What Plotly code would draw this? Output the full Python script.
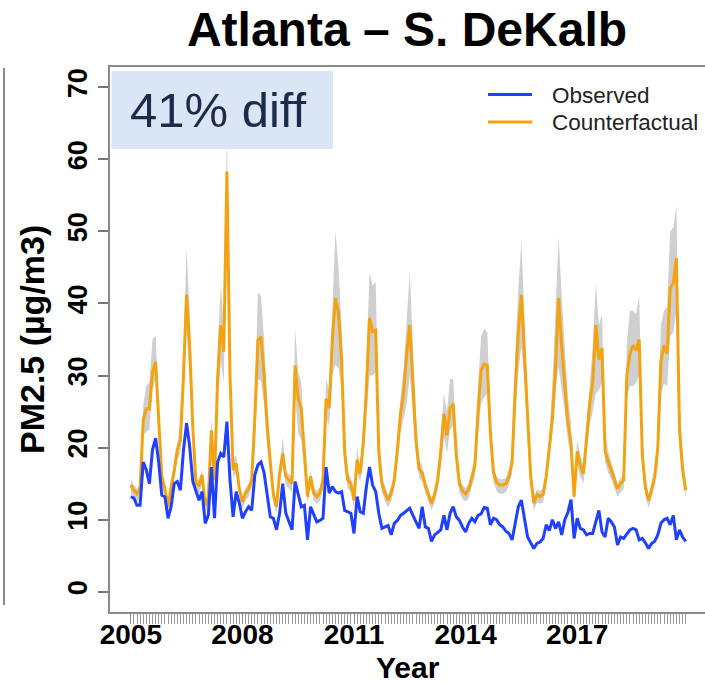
import plotly.graph_objects as go

# Monthly PM2.5 at the South DeKalb site, Jan 2005 - Dec 2019 (one row per year)
start_year = 2005
n_months = 180
month_pos = [start_year + k / 12 for k in range(n_months)]

observed = [
    13.2, 13.0, 12.0, 12.0, 18.0, 16.9, 15.0, 19.7, 21.3, 18.0, 13.4, 13.2,  # 2005
    10.2, 11.8, 15.0, 15.3, 14.1, 19.7, 23.4, 20.1, 15.3, 14.1, 12.7, 13.9,  # 2006
    9.5, 10.6, 17.3, 10.2, 18.0, 19.2, 18.7, 23.6, 15.5, 10.4, 13.9, 12.3,   # 2007
    10.2, 11.1, 11.8, 11.3, 16.2, 17.6, 18.0, 16.5, 13.5, 10.4, 10.2, 8.6,   # 2008
    10.9, 15.0, 10.9, 9.7, 8.6, 15.3, 13.7, 11.8, 12.0, 7.2, 11.8, 10.6,     # 2009
    9.7, 9.9, 10.2, 17.3, 13.7, 14.6, 13.9, 13.7, 13.9, 11.3, 11.1, 10.9,    # 2010
    8.1, 13.2, 11.1, 10.9, 14.6, 17.3, 14.8, 13.9, 10.9, 8.8, 9.0, 9.2,      # 2011
    7.9, 9.5, 9.9, 10.6, 10.9, 11.2, 11.6, 10.6, 9.8, 8.8, 11.8, 9.0,        # 2012
    8.8, 7.0, 7.9, 8.3, 8.6, 10.6, 8.6, 10.9, 11.8, 10.4, 9.9, 9.0,          # 2013
    8.3, 9.5, 10.2, 9.7, 10.6, 10.8, 11.7, 11.6, 9.3, 10.2, 10.0, 9.3,       # 2014
    9.0, 8.4, 8.1, 7.2, 9.3, 11.8, 12.7, 10.0, 7.6, 6.8, 6.0, 6.7,           # 2015
    6.9, 7.4, 9.3, 8.5, 10.0, 8.8, 9.7, 7.9, 10.0, 11.0, 12.8, 7.4,          # 2016
    10.2, 8.8, 8.6, 7.9, 8.1, 8.1, 9.7, 11.3, 8.3, 7.6, 10.2, 9.7,           # 2017
    9.0, 6.5, 7.6, 7.4, 8.0, 8.6, 8.8, 8.6, 7.2, 7.4, 6.8, 6.0,              # 2018
    6.7, 7.0, 7.9, 9.5, 10.0, 10.2, 9.3, 10.6, 7.2, 8.6, 7.6, 7.0,           # 2019
]

counterfactual = [
    14.8, 14.1, 13.6, 14.3, 23.8, 25.4, 25.4, 30.5, 31.9, 24.0, 16.0, 14.3,  # 2005
    11.8, 14.5, 16.8, 19.7, 21.0, 30.0, 41.2, 34.0, 22.9, 15.0, 14.8, 16.2,  # 2006
    12.0, 13.0, 22.4, 15.5, 29.5, 37.0, 33.3, 58.3, 30.0, 16.9, 17.8, 14.3,  # 2007
    12.5, 13.7, 14.3, 15.5, 24.0, 34.9, 35.4, 30.0, 23.0, 18.0, 13.5, 11.8,  # 2008
    16.4, 19.2, 16.0, 15.5, 15.0, 31.4, 26.8, 25.4, 18.7, 13.2, 16.0, 13.7,  # 2009
    13.2, 13.7, 15.5, 26.8, 25.5, 35.0, 40.7, 38.6, 32.2, 19.2, 15.5, 15.0,  # 2010
    12.7, 18.3, 16.4, 20.6, 28.0, 38.0, 36.1, 36.3, 19.5, 15.0, 13.7, 12.7,  # 2011
    13.7, 15.5, 19.7, 24.7, 27.5, 33.0, 37.0, 29.0, 21.0, 17.0, 16.5, 14.8,  # 2012
    13.5, 12.3, 13.5, 15.5, 19.5, 24.7, 21.7, 25.5, 26.1, 19.0, 15.0, 14.0,  # 2013
    13.6, 14.2, 15.8, 17.5, 25.0, 30.7, 31.6, 31.4, 22.0, 16.5, 15.2, 14.8,  # 2014
    14.8, 15.0, 16.0, 18.0, 28.0, 36.0, 41.2, 33.0, 24.0, 16.0, 12.3, 13.5,  # 2015
    13.2, 13.5, 16.0, 20.0, 24.0, 31.0, 40.7, 34.0, 28.4, 23.4, 20.6, 13.2,  # 2016
    19.5, 17.5, 16.4, 21.0, 26.0, 29.0, 37.0, 32.2, 33.8, 19.5, 18.0, 16.9,  # 2017
    15.5, 14.3, 15.0, 15.5, 30.0, 33.0, 34.2, 33.5, 35.0, 19.0, 14.5, 12.7,  # 2018
    14.1, 16.0, 20.0, 32.0, 34.2, 33.0, 42.1, 42.8, 46.3, 22.5, 17.0, 14.1,  # 2019
]

cf_lower = [
    13.8, 13.0, 12.5, 13.2, 21.8, 22.2, 22.5, 28.0, 29.8, 21.0, 14.8, 13.2,
    10.8, 13.3, 15.5, 18.3, 19.3, 26.5, 36.5, 29.5, 20.8, 13.8, 13.6, 15.0,
    11.0, 12.0, 20.5, 14.3, 26.5, 32.0, 29.0, 55.0, 27.0, 15.8, 16.5, 13.2,
    11.5, 12.6, 13.2, 14.4, 20.5, 29.5, 29.2, 26.0, 20.0, 16.5, 12.4, 10.8,
    15.0, 17.5, 14.8, 14.3, 13.8, 27.0, 22.0, 21.0, 17.0, 12.2, 14.8, 12.6,
    12.2, 12.6, 14.3, 24.0, 23.0, 30.0, 31.5, 31.0, 28.0, 17.0, 14.3, 13.9,
    11.7, 16.5, 15.2, 18.5, 24.5, 30.0, 30.0, 30.5, 17.0, 13.8, 12.6, 11.7,
    12.6, 14.3, 18.0, 22.0, 24.0, 26.0, 30.0, 24.0, 19.0, 15.8, 15.3, 13.7,
    12.4, 11.3, 12.4, 14.3, 17.5, 21.5, 19.2, 22.5, 23.0, 17.0, 13.8, 12.9,
    12.5, 13.0, 14.6, 16.0, 22.0, 26.1, 27.0, 27.5, 19.5, 15.2, 14.0, 13.6,
    13.6, 13.8, 14.8, 16.5, 24.0, 30.5, 34.0, 29.0, 21.0, 14.8, 11.3, 12.4,
    12.2, 12.4, 14.8, 18.5, 22.0, 28.0, 31.2, 28.0, 25.0, 21.0, 18.5, 12.3,
    17.5, 16.0, 15.0, 19.0, 23.0, 25.0, 27.5, 28.0, 29.0, 18.0, 16.5, 15.6,
    14.4, 13.2, 13.8, 14.3, 27.0, 28.5, 28.5, 29.0, 30.0, 17.0, 13.4, 11.6,
    13.0, 14.8, 17.5, 27.5, 28.9, 28.5, 35.4, 36.0, 39.0, 20.0, 15.5, 13.0,
]

cf_upper = [
    15.6, 14.8, 14.3, 15.0, 25.8, 28.7, 29.0, 35.0, 35.6, 26.5, 16.8, 15.0,
    12.5, 15.2, 17.8, 21.0, 23.5, 34.5, 47.6, 38.5, 25.0, 15.8, 15.5, 17.0,
    12.8, 13.8, 24.0, 16.8, 33.5, 42.5, 37.0, 64.0, 33.5, 18.2, 19.0, 15.0,
    13.2, 14.4, 15.0, 16.3, 26.0, 41.6, 41.0, 35.0, 26.0, 20.0, 14.2, 12.5,
    17.2, 21.5, 16.8, 16.3, 16.0, 36.5, 30.5, 29.0, 21.0, 14.0, 16.8, 14.5,
    14.0, 14.5, 16.5, 29.5, 28.0, 40.0, 50.0, 45.0, 37.0, 22.0, 16.5, 15.8,
    13.5, 20.0, 17.3, 23.0, 32.0, 44.2, 42.5, 43.0, 22.0, 15.8, 14.5, 13.5,
    14.5, 16.5, 21.0, 27.0, 31.0, 38.0, 44.4, 34.0, 24.0, 18.3, 17.5, 15.6,
    14.2, 13.0, 14.2, 16.5, 21.5, 27.5, 25.0, 29.6, 29.5, 21.5, 15.8, 14.8,
    14.4, 15.0, 16.8, 19.0, 28.0, 35.5, 36.5, 36.0, 25.0, 17.5, 16.0, 15.6,
    15.6, 15.8, 17.0, 19.5, 33.0, 42.0, 48.6, 38.0, 27.0, 17.0, 13.0, 14.2,
    14.0, 14.3, 17.0, 21.5, 29.0, 39.0, 49.3, 41.0, 33.5, 27.0, 23.5, 14.5,
    21.0, 19.0, 17.5, 23.0, 29.0, 34.0, 42.8, 37.0, 38.5, 22.0, 19.5, 18.0,
    16.3, 15.0, 15.8, 16.5, 34.5, 39.0, 39.0, 38.5, 41.0, 22.0, 15.5, 13.5,
    15.0, 17.0, 22.0, 37.0, 39.0, 39.5, 50.0, 50.5, 53.6, 27.0, 19.0, 15.0,
]

year_ticks = [2005, 2008, 2011, 2014, 2017]
pm_ticks = [0, 10, 20, 30, 40, 50, 60, 70]
series_names = ["Observed", "Counterfactual"]
diff_label = "41% diff"

BLUE = "#1f40ff"
ORANGE = "#f2a30f"
BAND = "#cfcfcf"
FONT = "Liberation Sans, Arial, Helvetica, sans-serif"

W, H = 705, 684
L, R, T, B = 110, 705, 67, 612  # plot area in pixels


def px(x):
    return (x - L) / (R - L)


def py(y):
    return (B - y) / (B - T)


fig = go.Figure()

# confidence band of the counterfactual
fig.add_trace(go.Scatter(x=month_pos, y=cf_lower, mode="lines",
                         line=dict(width=0, color=BAND), hoverinfo="skip",
                         showlegend=False))
fig.add_trace(go.Scatter(x=month_pos, y=cf_upper, mode="lines",
                         line=dict(width=0, color=BAND), fill="tonexty",
                         fillcolor=BAND, hoverinfo="skip", showlegend=False))
fig.add_trace(go.Scatter(x=month_pos, y=counterfactual, mode="lines",
                         name=series_names[1],
                         line=dict(color=ORANGE, width=3), showlegend=False))
fig.add_trace(go.Scatter(x=month_pos, y=observed, mode="lines",
                         name=series_names[0],
                         line=dict(color=BLUE, width=3), showlegend=False))

x_lo = start_year + (L - 130.8) / 37.2
x_hi = start_year + (R - 130.8) / 37.2

fig.update_layout(
    width=W, height=H,
    margin=dict(l=L, r=W - R, t=T, b=H - B, pad=0),
    paper_bgcolor="white", plot_bgcolor="white",
    font=dict(family=FONT, color="black"),
    title=dict(text="Atlanta \u2013 S. DeKalb", x=px(407), xref="paper",
               xanchor="center", y=1 - 29 / H, yanchor="middle",
               font=dict(size=48, family=FONT, weight="bold", color="black")),
    xaxis=dict(range=[x_lo, x_hi], tickvals=year_ticks,
               ticktext=[str(v) for v in year_ticks],
               ticks="outside", ticklen=10, tickwidth=1, tickcolor="#8c8c8c",
               ticklabelstandoff=-14,
               tickfont=dict(size=28, family=FONT, weight="bold", color="black"),
               showline=True, mirror=True, linecolor="#8a8a8a", linewidth=2,
               showgrid=False, zeroline=False,
               minor=dict(tickvals=month_pos, ticks="outside", ticklen=10,
                          tickwidth=1, tickcolor="#9a9a9a", showgrid=False)),
    yaxis=dict(range=[-2.8, 72.8], tickvals=pm_ticks,
               ticks="outside", ticklen=10, tickwidth=1.5, tickcolor="#777777",
               tickangle=-90,
               tickfont=dict(size=27, family=FONT, weight="bold", color="black"),
               showline=True, mirror=False, linecolor="#8a8a8a", linewidth=2,
               showgrid=False, zeroline=False),
)

shapes = []
# label box in the upper-left corner
shapes.append(dict(type="rect", xref="paper", yref="paper",
                   x0=px(111.5), x1=px(333), y0=py(149), y1=py(71),
                   fillcolor="#dae6f5", line=dict(width=0), layer="above"))
# legend keys
for name, color, yy in [(series_names[0], BLUE, 94.5), (series_names[1], ORANGE, 122)]:
    shapes.append(dict(type="line", xref="paper", yref="paper",
                       x0=px(488), x1=px(532), y0=py(yy), y1=py(yy),
                       line=dict(color=color, width=3), layer="above"))
# edge of the neighbouring panel
shapes.append(dict(type="line", xref="paper", yref="paper",
                   x0=px(4), x1=px(4), y0=py(68), y1=py(605),
                   line=dict(color="#8a8a8a", width=2)))
fig.update_layout(shapes=shapes)

annotations = [
    dict(text=diff_label, xref="paper", yref="paper", x=px(128), y=py(110),
         xanchor="left", yanchor="middle", showarrow=False,
         font=dict(size=49, family=FONT, color="#1c2b4a")),
    dict(text=series_names[0], xref="paper", yref="paper", x=px(550), y=py(95),
         xanchor="left", yanchor="middle", showarrow=False,
         font=dict(size=22.5, family=FONT, color="#222222")),
    dict(text=series_names[1], xref="paper", yref="paper", x=px(550), y=py(122.5),
         xanchor="left", yanchor="middle", showarrow=False,
         font=dict(size=22.5, family=FONT, color="#222222")),
    dict(text="PM2.5 (\u00b5g/m3)", xref="paper", yref="paper", x=px(32),
         y=py(340), xanchor="center", yanchor="middle", textangle=-90,
         showarrow=False,
         font=dict(size=34, family=FONT, weight="bold", color="black")),
    dict(text="Year", xref="paper", yref="paper", x=px(408), y=py(667),
         xanchor="center", yanchor="middle", showarrow=False,
         font=dict(size=30, family=FONT, weight="bold", color="black")),
]
fig.update_layout(annotations=annotations)

fig.write_html("out.html")
